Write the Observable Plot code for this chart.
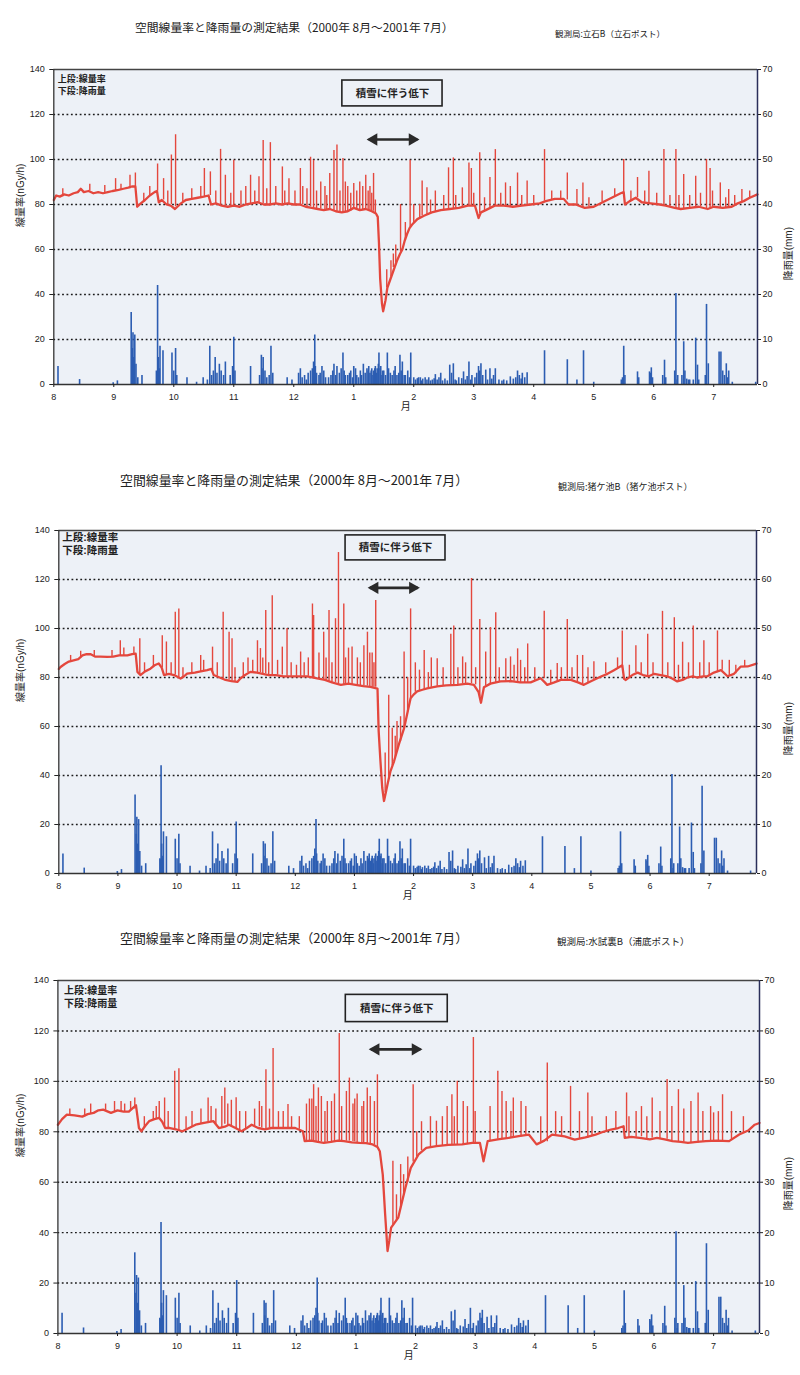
<!DOCTYPE html>
<html><head><meta charset="utf-8">
<script src="https://cdn.jsdelivr.net/npm/d3@7"></script>
<script src="https://cdn.jsdelivr.net/npm/@observablehq/plot@0.6"></script>
<style>
html,body{margin:0;padding:0;background:#fff;}
body{width:800px;height:1375px;position:relative;overflow:hidden;font-family:"Noto Sans CJK JP","Liberation Sans",sans-serif;color:#222;}
.t{position:absolute;white-space:nowrap;line-height:1;}
</style></head><body>
<script>
// ---------- data ----------
const monthLabels = ["8","9","10","11","12","1","2","3","4","5","6","7"];
const doseTicks = [0,20,40,60,80,100,120,140];
const rainTickLabels = ["0","10","20","30","40","50","60","70"];
const gridLevels = [20,40,60,80,100,120];
const titleText = "空間線量率と降雨量の測定結果（2000年 8月〜2001年 7月）";
const stations = ["観測局:立石B（立石ポスト）","観測局:猪ケ池B（猪ケ池ポスト）","観測局:水試裏B（浦底ポスト）"];
const legendText = "上段:線量率\n下段:降雨量";
const noteText = "積雪に伴う低下";
const xLabel = "月";
const yLabelLeft = "線量率(nGy/h)";
const yLabelRight = "降雨量(mm)";

// rainfall [month index from Aug, mm] (same for all three panels)
const rain = [
[0.07,4.0],[0.43,1.1],[0.99,0.4],[1.06,0.8],[1.29,16],[1.31,8],[1.32,11.5],[1.33,6],[1.34,3],[1.35,11],[1.37,4.5],[1.40,1.5],[1.47,2],
[1.71,3],[1.72,2.8],[1.73,22],[1.74,6],[1.75,3],[1.76,3.5],[1.77,8.5],[1.82,7.5],[1.97,7],[2.00,3],[2.03,8],[2.05,2],[2.22,1.5],[2.38,0.5],[2.49,1.5],
[2.56,1],[2.60,8.5],[2.63,2],[2.66,3],[2.69,6],[2.72,2.5],[2.76,4.5],[2.79,3],[2.83,2],[2.86,5],[2.94,2],[2.98,4],[3.00,10.5],[3.02,3],
[3.28,4],[3.43,2],[3.46,6.5],[3.47,3.5],[3.49,6],[3.52,3],[3.55,1.5],[3.59,2],[3.62,8.5],[3.65,2.5],[3.89,1.5],[3.97,1],
[4.08,2.5],[4.11,3.5],[4.14,1.5],[4.18,2],[4.21,1],[4.24,2.5],[4.28,3],[4.31,3.5],[4.33,5],[4.35,11],[4.36,4],[4.38,2.5],[4.42,2],[4.44,2.5],
[4.47,4],[4.50,3],[4.53,1.5],[4.58,1.5],[4.62,2],[4.65,3],[4.67,4.5],[4.70,2],[4.72,4],[4.76,2.5],[4.79,3.5],[4.82,7],[4.84,3],[4.86,2],
[4.90,2],[4.93,2.5],[4.95,3],[4.98,1.5],[5.00,4],[5.03,3.5],[5.05,2],[5.08,1.5],[5.11,3],[5.13,2],[5.16,4.5],[5.19,2.5],[5.22,3.5],[5.24,3],
[5.25,4],[5.27,2.5],[5.29,3],[5.30,3.5],[5.32,2],[5.33,3],[5.35,3.5],[5.36,4],[5.38,2.5],[5.39,3.5],[5.41,4.5],[5.42,7],[5.44,3.5],[5.45,4],
[5.47,2],[5.48,3],[5.50,3],[5.53,2],[5.56,7],[5.58,3.5],[5.61,2.5],[5.64,2],[5.67,3],[5.69,4],[5.72,2],[5.75,2.5],[5.77,6.5],[5.79,3],
[5.81,5],[5.84,2],[5.86,2],[5.90,3],[5.93,1.5],[5.95,7],[6.00,1.5],[6.03,1],[6.06,1.3],[6.08,1.5],[6.11,1.5],[6.13,0.8],[6.15,1.2],[6.19,1.5],
[6.22,1],[6.25,1.5],[6.28,0.8],[6.31,1],[6.34,1.3],[6.36,2.2],[6.39,1],[6.42,1.5],[6.45,2.5],[6.48,0.8],[6.52,1.2],[6.56,0.8],[6.60,4.3],[6.63,2.5],
[6.66,4.6],[6.69,1],[6.71,0.8],[6.75,1.5],[6.80,1.3],[6.83,2.8],[6.86,1],[6.89,1.8],[6.92,5],[6.95,1],[6.97,2],[7.02,1.5],[7.05,2.5],[7.08,4],
[7.10,3],[7.12,4.6],[7.15,2],[7.20,3.2],[7.23,1],[7.27,3.5],[7.30,1.2],[7.33,2],[7.36,3.5],[7.42,1],[7.47,0.8],[7.50,1],[7.55,0.8],[7.61,1.7],
[7.66,1.2],[7.70,1.5],[7.73,3],[7.76,2],[7.79,1.2],[7.81,2.5],[7.85,1.5],[7.89,2.6],[8.18,7.5],[8.56,5.5],[8.72,1],[8.83,7.5],[9.00,0.5],
[9.46,1],[9.48,1.5],[9.50,8.5],[9.52,2],[9.73,2.8],[9.75,1.5],[9.93,2.8],[9.95,2.5],[9.96,3.7],[9.98,1.5],[10.15,2],[10.18,5.4],[10.20,1.5],
[10.35,3],[10.37,20.2],[10.39,1],[10.40,2],[10.47,2],[10.50,9.5],[10.52,3],[10.55,1.2],[10.58,1],[10.60,1],[10.66,1],[10.70,10.3],[10.73,4.3],
[10.75,1],[10.86,2],[10.88,17.8],[10.91,4.6],[11.09,7.2],[11.12,7.2],[11.15,3],[11.18,2],[11.21,4.6],[11.23,1.5],[11.25,3],[11.31,0.5],[11.70,0.5]
];

// dose-rate trace [month, nGy/h] and spikes [month, base, peak] — station 1
const dose1Base = [
[0.00,82],[0.04,84],[0.10,83.5],[0.17,84.5],[0.25,84],[0.33,85],[0.40,85.5],[0.45,87],[0.50,85.5],[0.58,86],
[0.66,85],[0.74,85.5],[0.82,85],[0.90,85.5],[0.98,86],[1.08,86.5],[1.16,87],[1.24,87.5],[1.30,88],[1.36,88],
[1.39,79],[1.45,80.5],[1.52,82],[1.60,84],[1.68,85.5],[1.72,86],[1.75,81],[1.80,82],[1.88,80],[1.95,79.5],
[2.02,78],[2.06,79],[2.12,80.5],[2.20,82],[2.30,82.5],[2.40,83],[2.50,83.5],[2.58,84],[2.62,80],[2.70,80.5],
[2.80,79.5],[2.90,79],[3.00,79.5],[3.10,79],[3.20,80],[3.30,80.5],[3.40,81],[3.50,80],[3.60,80],[3.70,80.5],
[3.80,80],[3.90,80.5],[4.00,80],[4.10,80],[4.20,79],[4.30,78.5],[4.40,78],[4.50,77.5],[4.60,78],[4.70,77],
[4.80,76.5],[4.90,77],[5.00,78.5],[5.10,77.5],[5.20,78],[5.30,77],[5.37,76],[5.40,74.5],[5.42,63],[5.44,47],
[5.47,36],[5.49,32.5],[5.53,37.5],[5.56,43],[5.60,46],[5.64,49],[5.68,52],[5.72,55],[5.77,58],[5.81,60],
[5.85,64],[5.89,67],[5.93,69.5],[5.97,71],[6.06,73.5],[6.17,75],[6.30,76.5],[6.45,77.5],[6.60,78],[6.75,78.5],
[6.90,79.5],[7.02,79.5],[7.08,74],[7.12,76.5],[7.20,77.5],[7.35,79.5],[7.50,79.5],[7.65,79],[7.80,79.5],[7.95,80],
[8.10,80.5],[8.20,81.5],[8.35,82.5],[8.50,82.5],[8.58,80],[8.70,80],[8.85,78.5],[9.00,79],[9.15,81],[9.30,83],
[9.45,85],[9.50,85.5],[9.52,80],[9.60,81.5],[9.70,83],[9.80,81],[9.95,80.5],[10.10,80],[10.20,79.5],[10.35,78.5],
[10.45,78],[10.60,78.5],[10.75,79],[10.90,78],[11.00,79],[11.15,78.5],[11.30,79],[11.40,80.5],[11.50,81.5],[11.60,83],
[11.73,84.5]
];
const dose1Spikes = [
[1.03,86,91.5],[1.27,87,93],[1.36,88,94],[1.73,86,98],[1.83,82,91.5],[1.96,80,102],[2.03,79,111],[2.51,83.5,96],
[2.61,84,94.5],[2.78,80,104.5],[2.86,79.5,93],[3.00,79.5,99.7],[3.28,80,93],[3.42,80.5,92.3],[3.49,80.5,108.5],[3.61,80,107.5],
[3.81,80,96.7],[3.92,80,91.5],[4.11,80,96],[4.15,80,88],[4.28,79,101],[4.33,78.5,99.7],[4.45,78,90],[4.60,78,93.8],
[4.67,77,104],[4.72,77,106.4],[4.82,76.5,100.4],[4.90,77,88],[5.00,78,89.3],[5.10,77.5,90],[5.20,78,93],[5.27,77,88],
[5.33,77,93.8],[5.55,43,51],[5.62,48,55],[5.78,59,80],[5.94,70,99.7],[6.14,75,90.5],[6.22,75.5,87.5],[6.36,76.5,86],
[6.58,78,96.3],[6.66,78,100.7],[6.81,78.5,87.4],[6.92,79.5,98.5],[6.96,79.5,96],[7.10,76,103],[7.27,78,92],[7.36,79.5,104.4],
[7.53,79.5,89.6],[7.61,79,88],[7.73,79,94],[7.89,79.5,90.4],[8.18,81.5,104.4],[8.56,82,94],[8.72,80,86.7],[8.82,78.5,89.6],
[9.14,81,86],[9.50,85.5,100],[9.73,83,92],[9.92,80.5,94.8],[10.17,79.5,104.4],[10.37,78.5,104.4],[10.50,78,93.3],[10.70,79,92.6],
[10.88,78,100],[10.94,78,96],[11.11,78.5,89.6],[11.25,79,86.7],[11.47,81,86.7],
[0.15,83.5,87],[0.60,86,89],[0.85,85,88.5],[1.12,86.5,89],[1.50,81,85],[1.60,84,88],[1.90,80,86],[2.15,81,85],
[2.30,82.5,87],[2.45,83,88],[2.70,80.5,86],[2.95,79,85],[3.12,79,86],[3.20,80,88],[3.35,80.5,86],[3.55,80,87],
[3.70,80.5,88],[3.85,80,86],[4.02,80,86],[4.22,79,87],[4.38,78,86],[4.52,77.5,88],[4.55,77.5,84],[4.77,76.5,86],
[4.86,76.5,90],[4.95,77,85],[5.05,78,86],[5.15,77.5,88],[5.24,77.5,86],[5.30,77,85],[5.36,76,82],[5.66,52,58],
[5.70,54,62],[5.86,64,72],[6.00,72,80],[6.10,74,80],[6.28,76,82],[6.50,77.5,84],[6.70,78.5,84],[7.00,79.5,85],
[7.18,77,83],[7.45,79.5,85],[7.80,79.5,84],[8.00,80,84],[8.30,82,86],[8.45,82.5,86],[8.92,79,83],[9.35,83.5,87],
[9.62,81.5,86],[9.85,81,86],[10.05,80,85],[10.27,79,84],[10.42,78,84],[10.60,78.5,84],[10.78,79,85],[10.98,78.5,86],
[11.20,78.5,83],[11.35,79.5,84],[11.60,83,86]
];

// station 2
const dose2Base = [
[0.00,83.5],[0.03,84.3],[0.10,85.5],[0.17,86.5],[0.25,87],[0.33,87.5],[0.40,89],[0.47,89.5],[0.54,89.5],[0.62,88.5],
[0.70,88.5],[0.82,88.4],[0.92,88.5],[1.02,89],[1.16,89],[1.24,89.5],[1.30,89.7],[1.33,82.3],[1.38,81],[1.46,82.5],
[1.55,83.6],[1.62,85],[1.69,85.7],[1.74,84],[1.78,81],[1.86,81.5],[1.95,81],[2.06,79.6],[2.12,80.5],[2.17,81.6],
[2.30,82],[2.40,82.5],[2.51,83],[2.58,83.5],[2.62,81],[2.72,80],[2.82,79],[2.92,78.5],[3.02,78.2],[3.07,79.6],
[3.15,81],[3.24,82.3],[3.35,82],[3.45,81.5],[3.55,81],[3.67,81],[3.80,80.5],[3.98,80.5],[4.10,80.5],[4.20,80.5],
[4.37,79.6],[4.50,79],[4.62,78],[4.77,77],[4.90,77.5],[5.02,77],[5.15,76.5],[5.27,76.2],[5.39,75.5],[5.41,58],
[5.44,45.8],[5.47,35],[5.50,29.6],[5.53,33],[5.56,36.4],[5.61,41.8],[5.67,45.8],[5.75,52.6],[5.84,59.3],[5.90,66],
[5.95,71.5],[6.00,73],[6.06,74.3],[6.15,75],[6.23,75.6],[6.40,76.4],[6.55,76.8],[6.74,77],[6.91,77.5],[7.02,77],
[7.10,74],[7.14,69.7],[7.19,76],[7.30,77.5],[7.47,78.4],[7.65,78.5],[7.80,78],[7.98,78],[8.15,79.7],[8.22,78],
[8.26,77],[8.38,78],[8.49,79],[8.66,79],[8.78,78],[8.88,77],[9.00,78.5],[9.17,80.4],[9.28,81.5],[9.39,83],
[9.53,85],[9.56,79.5],[9.59,79],[9.70,81],[9.79,82],[9.88,81],[9.98,80.5],[10.07,81.5],[10.18,81],[10.29,80.5],
[10.38,79.5],[10.46,78.4],[10.55,79],[10.63,80],[10.72,80.5],[10.80,80],[10.90,80.5],[10.97,80.5],[11.08,82],[11.20,83],
[11.31,80.5],[11.42,81.5],[11.53,84.4],[11.65,84.5],[11.80,85.7]
];
const dose2Spikes = [
[0.37,88,90.7],[1.04,89,95],[1.27,89.5,92.4],[1.37,81,95.8],[1.75,84,97],[1.82,81,94.5],[1.97,81,106.6],[2.03,80,108],
[2.40,82,89],[2.60,82,92.4],[2.78,79.5,106.6],[2.88,79,98.5],[2.93,78.5,95.8],[3.36,82,95],[3.41,82,91.8],[3.50,81.5,107.3],
[3.61,81,113.4],[3.78,81,92.4],[3.86,80.5,100],[4.09,80.5,90.4],[4.29,80,110],[4.31,80,105.3],[4.48,79,98.5],[4.57,78.5,107.3],
[4.68,78,104],[4.73,77.5,131],[4.82,77,110],[4.96,77,92.4],[5.16,76.5,93],[5.22,76.5,98.5],[5.30,76,90],[5.36,76,111.4],
[5.52,33,49.2],[5.58,39,72.8],[5.64,44,59.3],[5.84,59,90.4],[5.95,71.5,108],[6.18,75,91],[6.40,76.4,87.7],[6.63,77,97.7],
[6.68,77,101],[6.83,77.5,88.4],[6.98,77.5,120.4],[7.12,72,103.7],[7.22,76.5,90.4],[7.30,77,100.4],[7.39,78,106.4],[7.56,78.5,87.7],
[7.64,78.5,88.4],[7.76,78,91.7],[7.81,78,87],[7.93,78,93.7],[8.21,79.5,107],[8.43,78.5,85.7],[8.60,79,103.7],[8.77,78,89],
[8.86,77.5,89],[9.05,79,86.4],[9.53,85,99],[9.76,82,93],[9.96,80.5,97.7],[10.21,80.5,107],[10.41,79,104.4],[10.55,79,94.4],
[10.73,80,101],[10.91,80.5,95],[11.14,82,99],[11.34,80.5,87],
[0.20,86.5,89],[0.60,88.5,91],[0.90,88.5,91],[1.10,89,92],[1.45,82,86],[1.60,84.5,89],[1.90,81,86],[2.10,80,84],
[2.25,81.5,86],[2.45,82.5,87],[2.68,80.5,86],[2.98,78.3,84],[3.12,80.5,86],[3.20,82,88],[3.28,82,87],[3.45,81.5,88],
[3.55,81,86],[3.70,81,87],[3.93,80.5,86],[4.02,80.5,85],[4.15,80.5,86],[4.22,80.5,88],[4.40,79.5,90],[4.52,78.5,88],
[4.62,78,86],[4.85,77,88],[4.90,77.5,92],[5.05,77,88],[5.10,76.5,86],[5.26,76.2,90],[5.33,76,86],[5.69,47,56],
[5.72,50,62],[5.78,54,64],[5.90,66,80],[6.03,74,86],[6.10,74.5,83],[6.25,75.6,82],[6.30,76,88],[6.50,76.5,84],
[6.75,77,84],[6.88,77.5,86],[7.05,77,84],[7.45,78.4,84],[7.70,78.5,85],[7.88,78,84],[8.05,78.5,84],[8.32,77.5,83],
[8.50,79,84],[8.68,79,84],[8.95,78,84],[9.25,81.5,86],[9.45,84,88],[9.65,80,85],[9.85,81.5,86],[10.05,81,86],
[10.30,80.5,86],[10.48,78.5,85],[10.65,80,86],[10.84,80,86],[11.00,80.5,86],[11.22,83,87],[11.45,81.5,85],[11.60,84.5,87]
];

// station 3
const dose3Base = [
[0.00,82.8],[0.07,85],[0.15,86.8],[0.28,86.5],[0.41,86],[0.50,87],[0.60,87.5],[0.68,88.5],[0.76,88.8],[0.89,87.5],
[1.00,88.5],[1.10,88],[1.19,88],[1.26,89.5],[1.31,90.5],[1.36,81.5],[1.40,80.2],[1.47,82.5],[1.53,84.2],[1.62,85],
[1.70,85.5],[1.75,84],[1.80,81.5],[1.88,81.5],[1.98,81],[2.09,80.2],[2.20,81.5],[2.31,82.8],[2.45,83.5],[2.61,84.2],
[2.70,81.5],[2.80,82],[2.87,82.8],[2.98,81.5],[3.08,80.2],[3.17,81.5],[3.25,82.8],[3.36,81.5],[3.47,81],[3.58,81.5],
[3.68,81.5],[3.80,81.5],[3.98,81.5],[4.11,80.2],[4.14,76.3],[4.25,76.5],[4.36,76],[4.46,75.6],[4.58,76],[4.70,76.5],
[4.80,76.3],[4.93,75.8],[5.06,75.6],[5.17,75.5],[5.28,75],[5.36,74],[5.40,72.3],[5.45,63],[5.49,47.2],[5.53,32.7],
[5.56,37],[5.59,42],[5.65,44],[5.71,46],[5.77,52],[5.83,57.8],[5.92,65.7],[6.05,71],[6.18,73.6],[6.35,74.3],
[6.55,74.8],[6.78,75],[6.95,75.6],[7.08,75.6],[7.14,68.3],[7.21,76.3],[7.38,77],[7.56,77.6],[7.73,78.3],[7.90,78.9],
[8.03,75],[8.16,76.5],[8.29,78.9],[8.50,78.2],[8.67,76.9],[8.85,77.8],[9.02,78.9],[9.15,80],[9.28,80.9],[9.40,81.5],
[9.49,82.2],[9.51,77.6],[9.62,78],[9.79,77.5],[9.93,77],[10.05,77.6],[10.18,77],[10.31,76.3],[10.45,76],[10.57,75.6],
[10.72,76],[10.87,76.3],[11.05,76.5],[11.26,76.3],[11.43,78.9],[11.58,80.5],[11.69,82.8],[11.77,83.5]
];
const dose3Spikes = [
[1.06,88,92],[1.29,89,93.4],[1.70,85,92],[1.79,82,93.4],[1.96,81,104],[2.03,80.5,105],[2.52,84,93.4],[2.80,83,97.4],
[2.91,82,92.5],[2.99,81,93.5],[3.38,82,92],[3.49,81,104.6],[3.61,81,113],[3.86,81.5,90.8],[4.22,76,93],[4.29,76,98.7],
[4.37,76,97.4],[4.52,76,92],[4.59,76,92],[4.72,76,119],[4.89,76.3,101.3],[4.98,76,93],[5.10,75.5,90],[5.19,75.5,97.4],
[5.36,74,102.6],[5.62,43,68.3],[5.75,50,67],[5.96,68,98.7],[6.35,74.3,84.2],[6.61,75,94.7],[6.70,75,100],[6.97,75.6,117.4],
[7.38,77,104],[7.64,77.6,93.4],[7.77,78,92],[8.21,76,107.3],[8.60,78,98],[8.89,77.5,95.4],[9.54,80,95.4],[9.79,78,90],
[9.97,77.5,93.4],[10.22,77,100.7],[10.41,76,96.7],[10.74,75.6,95.4],[11.00,76,87.5],[11.15,76.3,94.7],
[0.20,86.8,89],[0.45,86,89],[0.55,87,91],[0.80,88.5,91],[0.95,88,92],[1.12,88,91],[1.22,88.5,92],[1.45,81.5,86],
[1.60,84.5,88],[1.65,85,90],[1.85,81.5,88],[2.15,81,86],[2.25,82,88],[2.40,83,89],[2.57,84,90],[2.65,83,89],
[2.75,81.5,94],[2.85,82.5,91],[3.05,80.5,88],[3.15,81,88],[3.30,82,89],[3.42,81.5,90],[3.55,81.5,89],[3.70,81.5,88],
[3.78,81.5,88],[3.92,81.5,86],[4.05,81,86],[4.17,76.3,91],[4.26,76.5,93],[4.33,76,90],[4.42,76,94],[4.48,75.6,88],
[4.64,76,95],[4.76,76.4,90],[4.84,76.3,96],[4.95,76,91],[5.02,75.7,95],[5.13,75.5,92],[5.24,75.2,94],[5.31,74.7,92],
[5.68,45,55],[5.80,55,63],[5.87,60,70],[6.02,70,80],[6.10,72.5,84],[6.25,74,86],[6.45,74.5,86],[6.53,74.8,90],
[6.65,75,86],[6.80,75,92],[6.87,75.3,90],[7.00,75.6,88],[7.25,76.5,90],[7.45,77.2,96],[7.52,77.5,92],[7.60,77.6,88],
[7.85,78.7,90],[8.10,76,86],[8.35,78.9,88],[8.45,78.5,86],[8.75,77,88],[8.96,78.5,86],[9.20,80.4,86],[9.36,81,88],
[9.58,77.6,86],[9.70,77.8,88],[9.88,77.2,86],[10.10,77.3,88],[10.30,76.3,90],[10.50,75.9,89],[10.62,75.7,92],[10.82,76.2,88],
[10.95,76.3,90],[11.08,76.4,88],[11.30,76.6,88],[11.50,79.5,86]
];

// ---------- layout (pixels / annotation anchors) ----------
const layouts = [
  {base: dose1Base, spikes: dose1Spikes, station: stations[0],
   title: {left:135, top:21, size:11.8}, st: {left:555, top:29, size:8.5},
   plotTop:69, plotBottom:384, left:53.3, right:757, xMax:11.73,
   legend: {dx:4, dy:4, size:9, lh:1.35},
   box: {x1:4.81, x2:6.48, y1:123.6, y2:135.1}, arrow: {x1:5.25, x2:6.06, y:108.9}},
  {base: dose2Base, spikes: dose2Spikes, station: stations[1],
   title: {left:120, top:474, size:12.9}, st: {left:558, top:482, size:9},
   plotTop:530, plotBottom:873, left:58.3, right:756, xMax:11.8,
   legend: {dx:3.5, dy:1, size:10.5, lh:1.25},
   box: {x1:4.85, x2:6.54, y1:127.8, y2:138}, arrow: {x1:5.26, x2:6.07, y:116.6}},
  {base: dose3Base, spikes: dose3Spikes, station: stations[2],
   title: {left:120, top:932, size:12.9}, st: {left:557, top:937, size:9.5},
   plotTop:980, plotBottom:1333, left:57.4, right:759, xMax:11.77,
   legend: {dx:6, dy:3.5, size:10, lh:1.35},
   box: {x1:4.83, x2:6.54, y1:123.5, y2:134.3}, arrow: {x1:5.25, x2:6.08, y:112.7}}
];

const RED = "#e4473d", BLUE = "#2c5db2", BG = "#edf1f7";
const doseMax = 140, rainMax = 70;

function addText(txt, o) {
  const d = document.createElement("div");
  d.className = "t";
  d.textContent = txt;
  d.style.left = o.left + "px";
  d.style.top = o.top + "px";
  d.style.fontSize = o.size + "px";
  document.body.appendChild(d);
}

layouts.forEach(p => {
  addText(titleText, p.title);
  addText(p.station, p.st);
  const mt = 20, mb = 40;
  const h = p.plotBottom - p.plotTop;
  const height = h + mt + mb;
  const svg = Plot.plot({
    width: 800, height,
    marginTop: mt, marginBottom: mb, marginLeft: p.left, marginRight: 800 - p.right,
    x: {domain: [0, p.xMax]},
    y: {domain: [0, doseMax]},
    style: {fontFamily: "'Liberation Sans','Noto Sans CJK JP',sans-serif", fontSize: "9px", color: "#222", background: "transparent", overflow: "visible"},
    marks: [
      Plot.frame({fill: BG, stroke: "none"}),
      Plot.ruleY(gridLevels, {stroke: "#1b1b1b", strokeWidth: 1.4, strokeDasharray: "1.8,2.6"}),
      Plot.ruleX(rain, {x: d => d[0], y1: 0, y2: d => d[1] * doseMax / rainMax, stroke: BLUE, strokeWidth: 1.6}),
      Plot.ruleX(p.spikes, {x: d => d[0], y1: d => d[1], y2: d => d[2], stroke: RED, strokeWidth: 1.4}),
      Plot.line(p.base, {x: d => d[0], y: d => d[1], stroke: RED, strokeWidth: 2.3, strokeLinejoin: "round"}),
      Plot.ruleY([0], {stroke: "#333", strokeWidth: 1.3}),
      Plot.ruleY([doseMax], {stroke: "#444", strokeWidth: 1.6}),
      Plot.ruleX([0], {stroke: "#333", strokeWidth: 1.3}),
      Plot.ruleX([p.xMax], {stroke: "#2a2f5a", strokeWidth: 1.5}),
      Plot.axisX({ticks: monthLabels.map((_, i) => i), tickFormat: d => monthLabels[Math.round(d)], tickSize: 3, tickPadding: 6, label: null}),
      Plot.axisY({anchor: "left", ticks: doseTicks, tickFormat: d => String(d), tickSize: 4, tickPadding: 5, label: null}),
      Plot.axisY({anchor: "right", ticks: doseTicks, tickFormat: d => rainTickLabels[doseTicks.indexOf(d)], tickSize: 3, tickPadding: 2, label: null}),
      Plot.text([xLabel], {frameAnchor: "bottom", dy: 25, fontSize: 10}),
      Plot.text([yLabelLeft], {frameAnchor: "left", dx: 20 - p.left, rotate: -90, fontSize: 10}),
      Plot.text([yLabelRight], {frameAnchor: "right", dx: 788 - p.right, rotate: -90, fontSize: 10}),
      Plot.text([legendText], {frameAnchor: "top-left", textAnchor: "start", lineAnchor: "top", dx: p.legend.dx, dy: p.legend.dy, fontSize: p.legend.size, fontWeight: "bold", lineHeight: p.legend.lh}),
      Plot.rect([p.box], {x1: "x1", x2: "x2", y1: "y1", y2: "y2", fill: "none", stroke: "#222", strokeWidth: 1.6}),
      Plot.text([p.box], {x: d => (d.x1 + d.x2) / 2, y: d => (d.y1 + d.y2) / 2, text: () => noteText, fontSize: 10.5, fontWeight: "bold"}),
      Plot.link([p.arrow], {x1: "x1", x2: "x2", y1: "y", y2: "y", stroke: "#2a2a2a", strokeWidth: 2.6}),
      Plot.dot([p.arrow], {x: "x1", y: "y", dx: 5, symbol: "triangle", rotate: -90, r: 4.6, fill: "#2a2a2a", stroke: "none"}),
      Plot.dot([p.arrow], {x: "x2", y: "y", dx: -5, symbol: "triangle", rotate: 90, r: 4.6, fill: "#2a2a2a", stroke: "none"})
    ]
  });
  svg.style.position = "absolute";
  svg.style.left = "0px";
  svg.style.top = (p.plotTop - mt) + "px";
  document.body.appendChild(svg);
});
</script>
</body></html>
